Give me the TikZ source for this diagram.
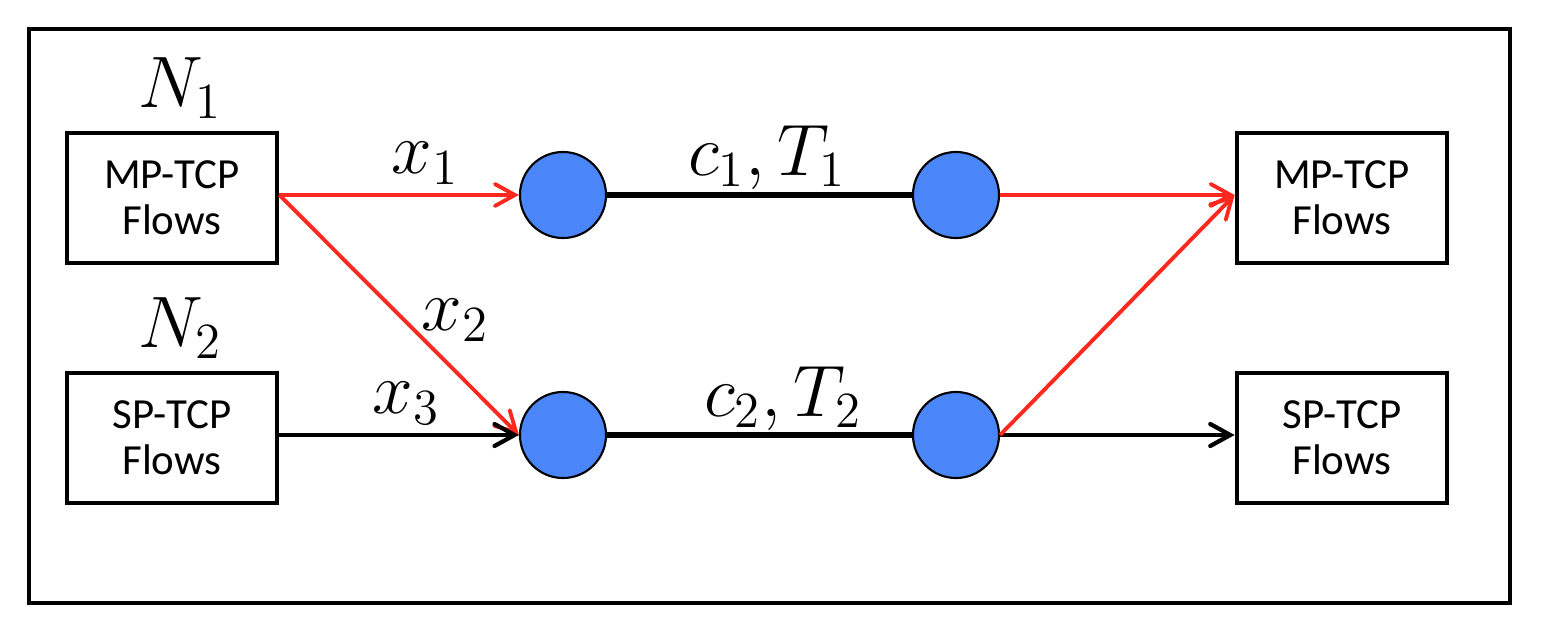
\documentclass[tikz,border=0pt]{standalone}
\usepackage{fontspec}
\newfontfamily\boxfont{Carlito}
\usetikzlibrary{arrows.meta}
\definecolor{flowred}{RGB}{255,40,30}
\definecolor{nodeblue}{RGB}{74,134,248}
\tikzset{
  flowbox/.style={draw, line width=1.3pt, minimum width=2.1cm, minimum height=1.3cm, align=center, font=\boxfont\fontsize{12.2}{13.2}\selectfont, inner sep=0pt},
  router/.style={circle, draw, line width=0.6pt, fill=nodeblue, minimum size=0.86cm, inner sep=0pt},
  lbl/.style={font=\fontsize{20}{24}\selectfont, inner sep=0pt},
  redarrow/.style={draw=flowred, line width=1.1pt, -{Straight Barb[length=0.2cm, width=0.22cm, line cap=round]}},
  blackarrow/.style={draw=black, line width=1.2pt, -{Straight Barb[length=0.2cm, width=0.22cm, line cap=round]}},
  link/.style={draw=black, line width=1.8pt}
}
\begin{document}
\begin{tikzpicture}[x=0.01cm, y=-0.01cm]
\useasboundingbox (0,0) rectangle (1544,630);
\draw[line width=1.3pt] (29,29) rectangle (1510,603);
\node[flowbox] (lt) at (172,198) {MP-TCP\\Flows};
\node[flowbox] (lb) at (172,438) {SP-TCP\\Flows};
\node[flowbox] (rt) at (1342,198) {MP-TCP\\Flows};
\node[flowbox] (rb) at (1342,438) {SP-TCP\\Flows};
\node[router] (c1) at (563,195) {};
\node[router] (c2) at (956,195) {};
\node[router] (c3) at (563,435) {};
\node[router] (c4) at (956,435) {};
\node[lbl] (n1) at (180,88) {$N_1$};
\node[lbl] (n2) at (180,328) {$N_2$};
\node[lbl] (x1) at (425,163) {$x_1$};
\node[lbl] (x2) at (455,320) {$x_2$};
\node[lbl] (x3) at (406,403) {$x_3$};
\node[lbl] (ct1) at (767,158) {$c_1, T_1$};
\node[lbl] (ct2) at (783,399) {$c_2, T_2$};
\draw[link] (c1) -- (c2);
\draw[link] (c3) -- (c4);
\draw[redarrow] (lt.east |- c1) -- (c1.west);
\draw[redarrow] (lt.east |- c1) -- (c3.west);
\draw[blackarrow] (lb.east |- c3) -- (c3.west);
\draw[redarrow] (c2.east) -- (rt.west |- c2);
\draw[blackarrow] (c4.east) -- (rb.west |- c4);
\draw[redarrow] (c4.east) -- (rt.west |- c2);
\end{tikzpicture}
\end{document}
